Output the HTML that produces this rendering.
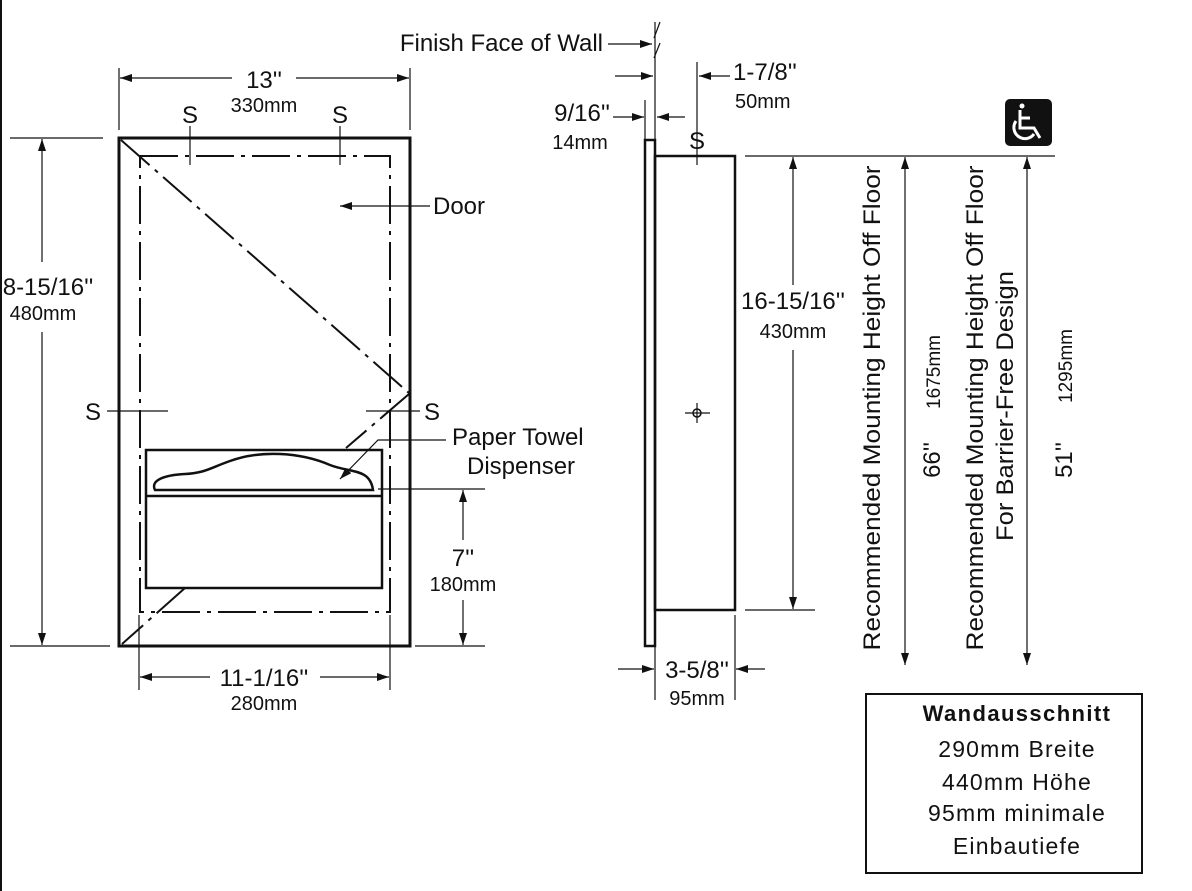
<!DOCTYPE html>
<html><head><meta charset="utf-8"><style>
html,body{margin:0;padding:0;background:#fff;}
svg{display:block;font-family:"Liberation Sans",sans-serif;}
</style></head><body>
<svg width="1192" height="891" viewBox="0 0 1192 891" xmlns="http://www.w3.org/2000/svg">
<defs>
<marker id="a" viewBox="0 0 12 8" refX="12" refY="4" markerWidth="12" markerHeight="8" markerUnits="userSpaceOnUse" orient="auto"><path d="M0,0 L12,4 L0,8 z" fill="#111"/></marker>
</defs>
<rect width="1192" height="891" fill="#fff"/>
<line x1="1" y1="0" x2="1" y2="891" stroke="#111" stroke-width="2"/>
<g stroke="#111" fill="none">
<rect x="119" y="138" width="291" height="508" stroke-width="3"/>
<rect x="140" y="156" width="250" height="456" stroke-width="2" stroke-dasharray="38,7,4,7"/>
<line x1="121" y1="140" x2="409" y2="393" stroke-width="2" stroke-dasharray="38,7,4,7"/>
<line x1="409" y1="394" x2="346" y2="448" stroke-width="2" stroke-dasharray="38,7,4,7"/>
<line x1="185" y1="588" x2="122" y2="644" stroke-width="2" stroke-dasharray="38,7,4,7"/>
<rect x="146" y="450" width="236" height="138" stroke-width="2.5" fill="#fff"/>
<line x1="146" y1="496" x2="382" y2="496" stroke-width="2.5"/>
<path d="M155,490 C150,480 165,475 185,474 C205,473 210,468 230,461 C260,450 300,452 330,465 C350,473 370,468 373,490 Z" stroke-width="2.5"/>
<g stroke-width="1.2">
<line x1="190" y1="126" x2="190" y2="165"/><line x1="340" y1="126" x2="340" y2="165"/>
<line x1="107" y1="411" x2="168" y2="411"/><line x1="366" y1="411" x2="420" y2="411"/>
<line x1="119" y1="68" x2="119" y2="130"/><line x1="410" y1="68" x2="410" y2="130"/>
<line x1="232" y1="78" x2="120" y2="78" marker-end="url(#a)"/>
<line x1="296" y1="78" x2="409" y2="78" marker-end="url(#a)"/>
<line x1="10" y1="138" x2="103" y2="138"/><line x1="10" y1="646" x2="110" y2="646"/>
<line x1="42" y1="262" x2="42" y2="139" marker-end="url(#a)"/>
<line x1="42" y1="332" x2="42" y2="645" marker-end="url(#a)"/>
<line x1="139" y1="615" x2="139" y2="690"/><line x1="390" y1="615" x2="390" y2="690"/>
<line x1="210" y1="677" x2="140" y2="677" marker-end="url(#a)"/>
<line x1="320" y1="677" x2="389" y2="677" marker-end="url(#a)"/>
<line x1="378" y1="489" x2="485" y2="489"/><line x1="415" y1="646" x2="485" y2="646"/>
<line x1="463" y1="540" x2="463" y2="490" marker-end="url(#a)"/>
<line x1="463" y1="600" x2="463" y2="645" marker-end="url(#a)"/>
<line x1="430" y1="206" x2="340" y2="206" marker-end="url(#a)"/>
<polyline points="446,440 378,440 340,479" marker-end="url(#a)"/>
<line x1="655" y1="22" x2="655" y2="140"/>
<line x1="654" y1="38" x2="660" y2="22"/><line x1="654" y1="58" x2="660" y2="43"/>
<line x1="608" y1="44" x2="652" y2="44" marker-end="url(#a)"/>
<line x1="615" y1="76" x2="653" y2="76" marker-end="url(#a)"/>
<line x1="697" y1="62" x2="697" y2="165"/>
<line x1="730" y1="76" x2="699" y2="76" marker-end="url(#a)"/>
<line x1="645" y1="100" x2="645" y2="140"/>
<line x1="613" y1="117" x2="644" y2="117" marker-end="url(#a)"/>
<line x1="685" y1="117" x2="657" y2="117" marker-end="url(#a)"/>
<line x1="745" y1="156" x2="1055" y2="156"/>
<line x1="745" y1="610" x2="815" y2="610"/>
<line x1="793" y1="285" x2="793" y2="157" marker-end="url(#a)"/>
<line x1="793" y1="350" x2="793" y2="609" marker-end="url(#a)"/>
<line x1="655" y1="615" x2="655" y2="700"/><line x1="735" y1="615" x2="735" y2="700"/>
<line x1="618" y1="669" x2="654" y2="669" marker-end="url(#a)"/>
<line x1="765" y1="669" x2="736" y2="669" marker-end="url(#a)"/>
<line x1="905" y1="300" x2="905" y2="157" marker-end="url(#a)"/>
<line x1="905" y1="300" x2="905" y2="665" marker-end="url(#a)"/>
<line x1="1027" y1="300" x2="1027" y2="157" marker-end="url(#a)"/>
<line x1="1027" y1="300" x2="1027" y2="665" marker-end="url(#a)"/>
<line x1="685" y1="413" x2="710" y2="413"/><line x1="697" y1="403" x2="697" y2="423"/>
</g>
<circle cx="697" cy="413" r="4" stroke-width="1.5"/>
<rect x="645" y="140" width="10" height="506" stroke-width="2.5"/>
<rect x="655" y="156" width="80" height="454" stroke-width="2.5"/>
</g>
<rect x="1005" y="99" width="47" height="47" rx="5" fill="#111"/>
<g stroke="#fff" fill="none" stroke-width="3">
<circle cx="1022" cy="106" r="2.5" fill="#fff" stroke="none"/>
<path d="M1020,110 L1020,128 L1034,128 L1040,138"/>
<path d="M1020,118 L1030,118"/>
<path d="M1016,121 A10,10 0 1 0 1034,134"/>
</g>
<g fill="#111" font-size="24" text-anchor="middle">
<text x="264" y="88">13''</text>
<text x="264" y="112" font-size="20">330mm</text>
<text x="190" y="123">S</text><text x="340" y="123">S</text>
<text x="93" y="420">S</text><text x="432" y="420">S</text>
<text x="48" y="295">8-15/16''</text>
<text x="43" y="320" font-size="20">480mm</text>
<text x="264" y="686">11-1/16''</text>
<text x="264" y="710" font-size="20">280mm</text>
<text x="463" y="566">7''</text>
<text x="463" y="591" font-size="20">180mm</text>
<text x="433" y="214" text-anchor="start">Door</text>
<text x="452" y="445" text-anchor="start">Paper Towel</text>
<text x="467" y="474" text-anchor="start">Dispenser</text>
<text x="603" y="51" text-anchor="end">Finish Face of Wall</text>
<text x="733" y="80" text-anchor="start">1-7/8''</text>
<text x="735" y="108" text-anchor="start" font-size="20">50mm</text>
<text x="610" y="121" text-anchor="end">9/16''</text>
<text x="580" y="149" font-size="20">14mm</text>
<text x="697" y="149">S</text>
<text x="793" y="309">16-15/16''</text>
<text x="793" y="338" font-size="20">430mm</text>
<text x="697" y="678">3-5/8''</text>
<text x="697" y="705" font-size="20">95mm</text>
<text transform="translate(880,408) rotate(-90)" textLength="485" lengthAdjust="spacingAndGlyphs">Recommended Mounting Height Off Floor</text>
<text transform="translate(940,460) rotate(-90)">66''</text>
<text transform="translate(940,372) rotate(-90)" font-size="19">1675mm</text>
<text transform="translate(983,408) rotate(-90)" textLength="485" lengthAdjust="spacingAndGlyphs">Recommended Mounting Height Off Floor</text>
<text transform="translate(1013,541) rotate(-90)" text-anchor="start" textLength="270" lengthAdjust="spacingAndGlyphs">For Barrier-Free Design</text>
<text transform="translate(1072,460) rotate(-90)">51''</text>
<text transform="translate(1072,366) rotate(-90)" font-size="19">1295mm</text>
</g>
<rect x="866" y="694" width="276" height="179" fill="none" stroke="#111" stroke-width="2"/>
<g fill="#111" text-anchor="middle" font-size="23" letter-spacing="1.2">
<text x="1017" y="721" font-weight="bold" font-size="22" letter-spacing="1.4">Wandausschnitt</text>
<text x="1017" y="757">290mm  Breite</text>
<text x="1017" y="790">440mm  Höhe</text>
<text x="1017" y="821">95mm  minimale</text>
<text x="1017" y="854">Einbautiefe</text>
</g>
</svg>
</body></html>
